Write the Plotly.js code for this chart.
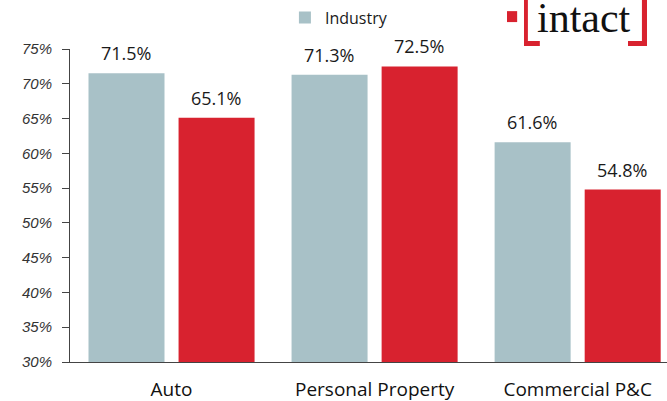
<!DOCTYPE html>
<html>
<head>
<meta charset="utf-8">
<script src="https://cdn.plot.ly/plotly-3.0.1.min.js"></script>
<style>html,body{margin:0;padding:0;background:#fff;}#chart{width:667px;height:401px;}</style>
</head>
<body>
<div id="chart"></div>
<script>
var categories = ["Auto", "Personal Property", "Commercial P&C"];
var industryValues = [71.5, 71.3, 61.6];
var intactValues = [65.1, 72.5, 54.8];
var seriesNames = ["Industry", "Intact"];
var yTickValues = [30, 35, 40, 45, 50, 55, 60, 65, 70, 75];
var yTickLabels = ["30%", "35%", "40%", "45%", "50%", "55%", "60%", "65%", "70%", "75%"];

var labelFont = {family: "Open Sans, sans-serif", size: 18, color: "#1a1a1a"};
var red = "#d8222f";
var grey = "#a8c1c7";

var traces = [
  {type: "bar", name: seriesNames[0], x: categories, y: industryValues,
   marker: {color: grey}, hoverinfo: "skip"},
  {type: "bar", name: seriesNames[1], x: categories, y: intactValues,
   marker: {color: red}, showlegend: false, hoverinfo: "skip"}
];

var annotations = [];
function addLabels(values, shift) {
  values.forEach(function (v, i) {
    annotations.push({
      x: categories[i], y: v, xref: "x", yref: "y",
      text: v.toFixed(1) + "%", showarrow: false,
      xanchor: "center", yanchor: "bottom", xshift: shift, yshift: 6,
      font: labelFont
    });
  });
}
addLabels(industryValues, -45.5);
addLabels(intactValues, 44.5);

annotations.push({
  xref: "paper", yref: "paper", x: 0.861, y: 1.099, xanchor: "center", yanchor: "middle",
  text: "intact", showarrow: false,
  font: {family: "Liberation Serif, Times New Roman, serif", size: 42, color: "#111"}
});

var layout = {
  width: 667, height: 401,
  margin: {l: 70, r: 0, t: 49, b: 39, pad: 0},
  paper_bgcolor: "#fff", plot_bgcolor: "#fff",
  barmode: "group", bargap: 0.113, bargroupgap: 0.156,
  showlegend: true,
  legend: {
    orientation: "h", x: 0.360, xanchor: "left", y: 1.1, yanchor: "middle",
    font: {family: "Open Sans, sans-serif", size: 16, color: "#1a1a1a"},
    bgcolor: "rgba(0,0,0,0)"
  },
  xaxis: {
    type: "category", range: [-0.5, 2.44],
    showline: true, linecolor: "#444", linewidth: 1,
    ticks: "", showgrid: false, zeroline: false,
    tickfont: {family: "Open Sans, sans-serif", size: 19, color: "#111"},
    ticklabelstandoff: 10
  },
  yaxis: {
    range: [30, 75], tickmode: "array", tickvals: yTickValues, ticktext: yTickLabels,
    showline: true, linecolor: "#444", linewidth: 1,
    ticks: "outside", ticklen: 7, tickcolor: "#444",
    showgrid: false, zeroline: false,
    tickfont: {family: "Liberation Sans, Arial, sans-serif", size: 15, color: "#333", style: "italic"},
    ticklabelstandoff: 7
  },
  shapes: [
    {type: "rect", xref: "paper", yref: "paper", x0: 0.732, x1: 0.749, y0: 1.086, y1: 1.121, fillcolor: red, line: {width: 0}},
    {type: "rect", xref: "paper", yref: "paper", x0: 0.7605, x1: 0.767, y0: 1.0096, y1: 1.17, fillcolor: red, line: {width: 0}},
    {type: "rect", xref: "paper", yref: "paper", x0: 0.7605, x1: 0.787, y0: 1.0096, y1: 1.0256, fillcolor: red, line: {width: 0}},
    {type: "rect", xref: "paper", yref: "paper", x0: 0.958, x1: 0.9665, y0: 1.0096, y1: 1.17, fillcolor: red, line: {width: 0}},
    {type: "rect", xref: "paper", yref: "paper", x0: 0.9347, x1: 0.9665, y0: 1.0096, y1: 1.0256, fillcolor: red, line: {width: 0}}
  ],
  annotations: annotations
};

Plotly.newPlot("chart", traces, layout, {displayModeBar: false, staticPlot: true});
</script>
</body>
</html>
